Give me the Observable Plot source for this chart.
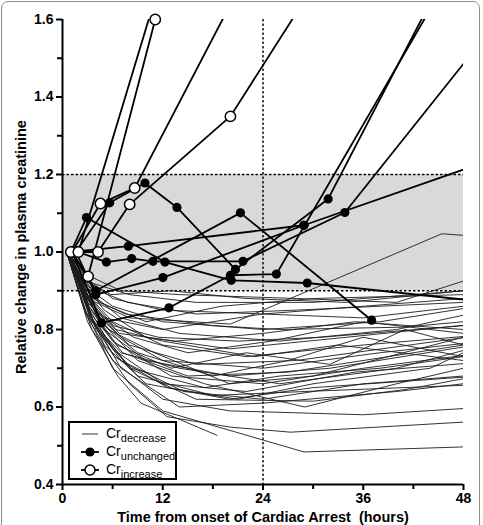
<!DOCTYPE html>
<html>
<head>
<meta charset="utf-8">
<script src="https://cdn.jsdelivr.net/npm/d3@7"></script>
<script src="https://cdn.jsdelivr.net/npm/@observablehq/plot@0.6"></script>
<style>
  body { margin: 0; background: #fff; font-family: "Liberation Sans", Arial, sans-serif; }
  #wrap { position: relative; width: 483px; height: 525px; overflow: hidden; background: #fff; }
  #frame { position: absolute; left: 1px; top: 1px; width: 477px; height: 540px; border: 1.5px solid #8e8e8e; border-radius: 7px; pointer-events: none; }
  #legend { position: absolute; left: 68px; top: 421px; width: 105px; height: 55px; border: 2px solid #000; background: #fff; }
  #legend .row { position: absolute; left: 0; height: 18px; display: flex; align-items: center; }
  #legend svg { display: block; margin-left: 10px; margin-right: 6px; }
  #legend .lab { font-size: 14px; color: #000; white-space: nowrap; }
  #legend sub { font-size: 11px; vertical-align: -4px; }
</style>
</head>
<body>
<div id="wrap">
  <div id="chart"></div>
  <div id="legend">
    <div class="row" style="top:2px"><svg width="20" height="14"><line x1="2" x2="18" y1="7" y2="7" stroke="#555" stroke-width="1.2"/></svg><span class="lab">Cr<sub>decrease</sub></span></div>
    <div class="row" style="top:20px"><svg width="20" height="14"><line x1="1" x2="19" y1="7" y2="7" stroke="#000" stroke-width="1.8"/><circle cx="10" cy="7" r="4.6" fill="#000"/></svg><span class="lab">Cr<sub>unchanged</sub></span></div>
    <div class="row" style="top:38px"><svg width="20" height="14"><line x1="1" x2="19" y1="7" y2="7" stroke="#000" stroke-width="1.8"/><circle cx="10" cy="7" r="5" fill="#fff" stroke="#000" stroke-width="1.5"/></svg><span class="lab">Cr<sub>increase</sub></span></div>
  </div>
  <div id="frame"></div>
</div>
<script>
// Axis ticks and reference levels
const xTicks = [0, 12, 24, 36, 48];
const xMinor = [6, 18, 30, 42];
const yTicks = [0.4, 0.6, 0.8, 1.0, 1.2, 1.4, 1.6];
const yMinor = [0.5, 0.7, 0.9, 1.1, 1.3, 1.5];
const normalBand = [0.9, 1.2];
const arrestMark = [24];

// Patients whose creatinine fell: [hours, relative creatinine]
const decrease = [
  [[0.5,1],[2.5,0.86],[6,0.70],[12,0.59],[28.9,0.484],[48,0.497]],
  [[0.5,1],[3,0.82],[6.6,0.68],[9.4,0.61],[18.5,0.527]],
  [[0.5,1],[3.5,0.80],[8,0.66],[12.5,0.575],[20.1,0.548],[27.3,0.535],[48,0.561]],
  [[0.5,1],[2.8,0.84],[6,0.72],[12,0.62],[20,0.59],[36,0.58],[48,0.596]],
  [[0.8,1],[3,0.85],[7,0.70],[14,0.60],[24,0.61],[40,0.64],[48,0.66]],
  [[0.8,1],[3.5,0.83],[8,0.70],[16,0.62],[30,0.615],[41,0.645],[48,0.673]],
  [[0.6,1],[2.5,0.88],[5,0.76],[10,0.66],[20,0.62],[30,0.65],[48,0.677]],
  [[0.7,1],[4,0.80],[9,0.68],[18,0.63],[29,0.64],[48,0.656]],
  [[0.6,1],[3,0.86],[6,0.75],[12,0.66],[22,0.64],[35,0.69],[48,0.712]],
  [[0.5,1],[2.8,0.87],[6,0.77],[13,0.68],[24,0.66],[36,0.70],[48,0.733]],
  [[0.7,1],[3.5,0.82],[7,0.74],[14,0.70],[26,0.66],[40,0.70],[48,0.746]],
  [[0.6,1],[2.5,0.90],[5,0.80],[10,0.72],[20,0.68],[32,0.70],[48,0.755]],
  [[0.5,1],[3,0.87],[7,0.78],[12,0.72],[24,0.70],[38,0.74],[48,0.764]],
  [[0.8,1],[4,0.84],[8,0.76],[16,0.71],[28,0.72],[48,0.779]],
  [[0.6,1],[3,0.89],[6,0.82],[12,0.76],[22,0.73],[36,0.76],[48,0.782]],
  [[0.5,1],[2.5,0.92],[5,0.85],[10,0.78],[20,0.75],[34,0.78],[48,0.811]],
  [[0.7,1],[3,0.90],[7,0.83],[14,0.79],[26,0.77],[40,0.80],[48,0.837]],
  [[0.5,1],[2.8,0.91],[6,0.86],[12,0.82],[24,0.80],[38,0.82],[48,0.854]],
  [[0.6,1],[3,0.93],[6,0.88],[12,0.85],[24,0.84],[36,0.86],[48,0.88]],
  [[0.6,1],[3.5,0.92],[8,0.89],[16,0.87],[30,0.87],[48,0.90]],
  [[0.5,1],[3,0.94],[7,0.90],[14,0.89],[28,0.88],[40,0.87],[48,0.925]],
  [[0.5,1],[3,0.88],[8,0.83],[20.1,0.814],[45.4,1.047],[48,1.043]],
  [[0.7,1],[2.2,0.92],[4.5,0.82],[9,0.74],[18,0.68],[27,0.72],[36,0.78],[48,0.73]],
  [[0.6,1],[3.2,0.86],[6.5,0.76],[13,0.70],[22,0.74],[32,0.71],[41,0.80],[48,0.76]],
  [[0.5,1],[2.6,0.89],[5.5,0.80],[11,0.74],[20,0.66],[30,0.68],[48,0.78]],
  [[0.8,1],[4.2,0.83],[9,0.72],[17,0.66],[29,0.60],[40,0.66],[48,0.70]],
  [[0.6,1],[3.8,0.85],[8.5,0.78],[15,0.74],[25,0.77],[36,0.82],[48,0.79]],
  [[0.5,1],[2.4,0.90],[5,0.83],[12,0.80],[24,0.84],[36,0.83],[48,0.86]],
  [[0.7,1],[3.6,0.88],[7.5,0.84],[18,0.81],[26,0.80],[40.8,0.806],[48,0.82]],
  [[0.6,1],[3,0.87],[6.8,0.79],[13.5,0.77],[24,0.79],[35,0.82],[48,0.80]],
  [[0.5,1],[2.7,0.85],[6.2,0.73],[12.6,0.65],[21,0.62],[30,0.66],[44,0.70],[48,0.74]],
  [[0.8,1],[3.4,0.84],[7.2,0.74],[15,0.68],[27,0.69],[39,0.73],[48,0.76]],
  [[0.6,1],[2.9,0.88],[6.4,0.80],[12,0.77],[23,0.73],[33,0.76],[48,0.72]],
  [[0.5,1],[3.1,0.91],[7.8,0.87],[16,0.84],[28,0.85],[48,0.87]],
  [[0.7,1],[4.4,0.87],[10,0.82],[19,0.86],[30,0.88],[48,0.89]],
  [[0.6,1],[2.3,0.93],[5.8,0.89],[13,0.90],[22,0.88],[34,0.87],[48,0.90]],
  [[0.5,1],[3.3,0.83],[7,0.72],[14.5,0.64],[24,0.62],[36,0.66],[48,0.68]],
  [[0.7,1],[3.9,0.81],[8.2,0.70],[17,0.65],[26,0.68],[38,0.70],[48,0.73]],
  [[0.6,1],[2.9,0.89],[6.1,0.81],[11.5,0.78],[21,0.77],[31,0.78],[48,0.81]]
];

// Patients whose creatinine stayed within the band
const unchanged = [
  [[1.0,1.0],[2.87,1.089],[12.26,0.974],[20.2,0.927],[29.3,0.92],[56,0.859]],
  [[1.15,1.0],[3.98,0.90],[21.3,1.101],[37.0,0.824]],
  [[1.6,1.0],[5.65,1.127],[9.87,1.178],[13.7,1.115],[20.7,0.955],[31.8,1.137],[44,1.643]],
  [[1.9,1.0],[5.26,0.974],[8.28,0.983],[10.83,0.976],[21.6,0.976],[33.8,1.102],[56,1.702]],
  [[1.0,1.0],[7.88,1.015],[28.9,1.069],[56,1.273]],
  [[1.15,1.0],[4.66,0.817],[12.74,0.856],[20.1,0.94],[25.6,0.943],[44,1.626]],
  [[1.6,1.0],[3.98,0.89],[12.02,0.934],[28.9,1.069]]
];

// Patients whose creatinine rose
const increase = [
  [[1.15,1.0],[4.54,1.125],[8.64,1.165],[20,1.635]],
  [[1.6,1.0],[4.25,1.0],[8.04,1.123],[20.1,1.35],[30,1.685]],
  [[1.0,1.0],[3.06,0.937],[11.1,1.6]],
  [[1.9,1.0],[12,1.72]]
];

const toRows = (group) => group.flatMap((s, i) => s.map(([t, v]) => ({id: i, t, v})));
const decRows = toRows(decrease);
const uncRows = toRows(unchanged);
const incRows = toRows(increase);
const inView = (d) => d.t <= 48 && d.v <= 1.6;

const chart = Plot.plot({
  width: 483,
  height: 525,
  marginLeft: 62,
  marginRight: 20,
  marginTop: 19,
  marginBottom: 41,
  style: {fontFamily: "'Liberation Sans', Arial, sans-serif", fontSize: "14px", fontWeight: "bold", color: "#000", background: "transparent"},
  x: {domain: [0, 48]},
  y: {domain: [0.4, 1.6]},
  marks: [
    Plot.rect([normalBand], {y1: (d) => d[0], y2: (d) => d[1], fill: "#d7dad9"}),
    Plot.ruleY(normalBand, {stroke: "#000", strokeWidth: 1.4, strokeDasharray: "2.5,2"}),
    Plot.ruleX(arrestMark, {stroke: "#000", strokeWidth: 1.4, strokeDasharray: "2.5,2"}),
    Plot.line(decRows, {x: "t", y: "v", z: "id", stroke: "#1c1c1c", strokeWidth: 0.9, clip: true}),
    Plot.line(uncRows, {x: "t", y: "v", z: "id", stroke: "#000", strokeWidth: 1.8, clip: true}),
    Plot.line(incRows, {x: "t", y: "v", z: "id", stroke: "#000", strokeWidth: 1.8, clip: true}),
    Plot.dot(uncRows, {filter: inView, x: "t", y: "v", r: 4.6, fill: "#000"}),
    Plot.dot(incRows, {filter: inView, x: "t", y: "v", r: 5.2, fill: "#fff", stroke: "#000", strokeWidth: 1.5}),
    Plot.axisY(yTicks, {tickSize: 6, tickPadding: 3, strokeWidth: 2, tickFormat: (d) => d.toFixed(1), label: null}),
    Plot.axisY(yMinor, {tickSize: 5, strokeWidth: 2, tickFormat: () => "", label: null}),
    Plot.axisX(xTicks, {tickSize: 6, tickPadding: 3, strokeWidth: 2, label: null}),
    Plot.axisX(xMinor, {tickSize: 5, strokeWidth: 2, tickFormat: () => "", label: null}),
    Plot.ruleX([0], {stroke: "#000", strokeWidth: 2}),
    Plot.ruleY([0.4], {stroke: "#000", strokeWidth: 2}),
    Plot.text(["Time from onset of Cardiac Arrest\u00a0 (hours)"], {frameAnchor: "bottom", lineAnchor: "bottom", dy: 37, fontSize: 14.5, fontWeight: "bold"}),
    Plot.text(["Relative change in plasma creatinine"], {frameAnchor: "left", textAnchor: "middle", lineAnchor: "middle", rotate: -90, dx: -41, dy: -5, fontSize: 14.5, fontWeight: "bold"})
  ]
});
document.getElementById("chart").appendChild(chart);
</script>
</body>
</html>
